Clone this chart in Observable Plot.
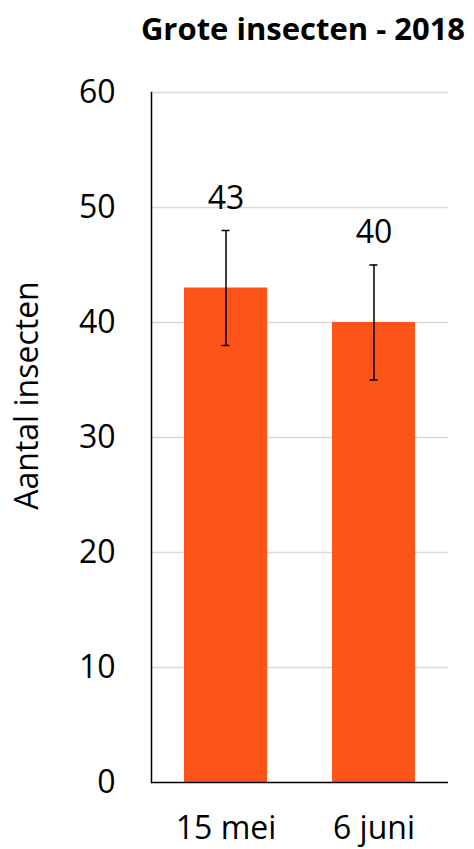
<!DOCTYPE html>
<html>
<head>
<meta charset="utf-8">
<script src="https://cdn.jsdelivr.net/npm/d3@7"></script>
<script src="https://cdn.jsdelivr.net/npm/@observablehq/plot@0.6"></script>
<style>
  html, body { margin: 0; padding: 0; background: #fff; }
  #chart svg { display: block; }
</style>
</head>
<body>
<div id="chart"></div>
<script>
const categories = ["15 mei", "6 juni"];
const values = [43, 40];
const errors = [5, 5];
const yTicks = [0, 10, 20, 30, 40, 50, 60];
const title = "Grote insecten - 2018";
const yLabel = "Aantal insecten";

const data = categories.map((c, i) => ({cat: c, v: values[i], e: errors[i]}));
const font = "'Open Sans', 'Liberation Sans', sans-serif";

const chart = Plot.plot({
  width: 474,
  height: 849,
  marginLeft: 151,
  marginRight: 26,
  marginTop: 92,
  marginBottom: 67,
  style: {fontFamily: font, background: "#fff", color: "#000"},
  x: {domain: categories, paddingInner: 0.44, paddingOuter: 0.22, label: null},
  y: {domain: [0, 60], label: null},
  marks: [
    Plot.gridY(yTicks.filter(d => d > 0), {stroke: "#d9d9d9", strokeOpacity: 1, strokeWidth: 1.5}),
    Plot.barY(data, {x: "cat", y: "v", fill: "#FF5419"}),
    Plot.ruleX(data, {x: "cat", y1: d => d.v - d.e, y2: d => d.v + d.e, stroke: "#000", strokeWidth: 1.5}),
    Plot.tickY(data, {x: "cat", y: d => d.v - d.e, stroke: "#000", strokeWidth: 1.5, insetLeft: 37.5, insetRight: 37.5}),
    Plot.tickY(data, {x: "cat", y: d => d.v + d.e, stroke: "#000", strokeWidth: 1.5, insetLeft: 37.5, insetRight: 37.5}),
    Plot.text(data, {x: "cat", y: d => d.v + d.e, text: d => String(d.v), dy: -32, fontSize: 32, fill: "#000"}),
    Plot.axisY(yTicks, {tickSize: 0, tickPadding: 36, fontSize: 32, label: null}),
    Plot.axisX({tickSize: 0, tickPadding: 34, fontSize: 32, label: null}),
    Plot.ruleY([0], {stroke: "#000", strokeWidth: 1.5}),
    Plot.frame({anchor: "left", stroke: "#000", strokeWidth: 1.5}),
    Plot.text([title], {frameAnchor: "top", dx: 3, dy: -75, fontSize: 31, fontWeight: "bold", fill: "#000"}),
    Plot.text([yLabel], {frameAnchor: "left", textAnchor: "middle", dx: -124, dy: -42, rotate: -90, fontSize: 32, fill: "#000"})
  ]
});
document.getElementById("chart").appendChild(chart);
</script>
</body>
</html>
